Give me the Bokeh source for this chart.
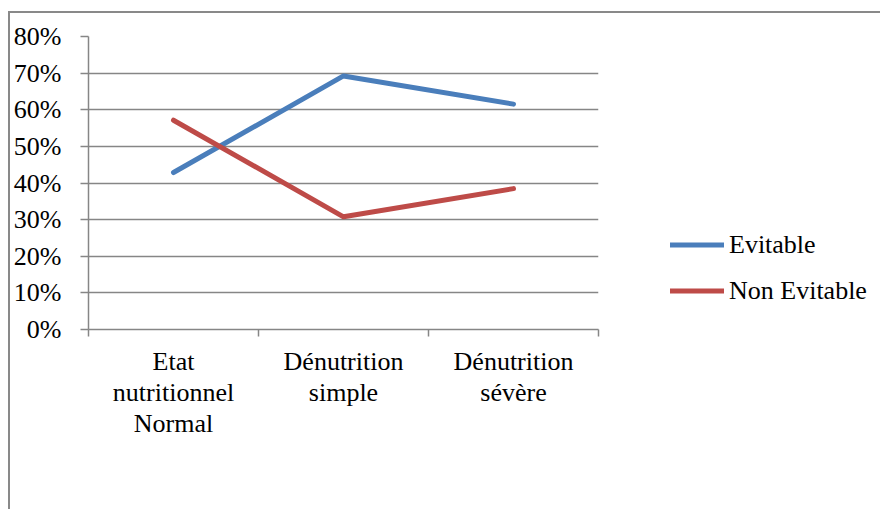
from bokeh.plotting import figure
from bokeh.models import FixedTicker, NumeralTickFormatter, Range1d, Legend, LegendItem
from bokeh.embed import file_html
from bokeh.resources import INLINE

categories = ["Etat\nnutritionnel\nNormal", "Dénutrition\nsimple", "Dénutrition\nsévère"]
evitable = [0.4286, 0.6923, 0.6154]
non_evitable = [0.5714, 0.3077, 0.3846]
y_ticks = [0.0, 0.1, 0.2, 0.3, 0.4, 0.5, 0.6, 0.7, 0.8]

x = list(range(1, len(categories) + 1))
FONT = "Liberation Serif"
FS = "26px"
GRID = "#868686"

p = figure(frame_width=510, frame_height=293, output_backend="svg", toolbar_location=None,
           x_range=Range1d(0.5, len(categories) + 0.5), y_range=Range1d(0, 0.8),
           min_border_left=76, min_border_top=23, min_border_right=0, min_border_bottom=180)
p.outline_line_color = None
p.background_fill_color = "white"
p.border_fill_color = "white"
p.margin = (11, 0, 0, 8)
p.styles = {"border-left": "2px solid #898989", "border-top": "2px solid #898989"}

# y axis
p.yaxis.ticker = FixedTicker(ticks=y_ticks)
p.yaxis.formatter = NumeralTickFormatter(format="0%")
p.yaxis.axis_line_color = GRID
p.yaxis.axis_line_width = 1.5
p.yaxis.major_tick_line_color = GRID
p.yaxis.major_tick_line_width = 1.5
p.yaxis.major_tick_out = 8
p.yaxis.major_tick_in = 0
p.yaxis.minor_tick_line_color = None
p.yaxis.major_label_standoff = 19
p.yaxis.major_label_text_font = FONT
p.yaxis.major_label_text_font_size = FS
p.yaxis.major_label_text_color = "black"

# x axis
p.xaxis.ticker = FixedTicker(ticks=x, minor_ticks=[i + 0.5 for i in range(0, len(categories) + 1)])
p.xaxis.major_label_overrides = {i: c for i, c in zip(x, categories)}
p.xaxis.axis_line_color = GRID
p.xaxis.axis_line_width = 1.5
p.xaxis.major_tick_line_color = None
p.xaxis.minor_tick_line_color = GRID
p.xaxis.minor_tick_line_width = 1.5
p.xaxis.minor_tick_out = 7
p.xaxis.minor_tick_in = 0
p.xaxis.major_tick_out = 7
p.xaxis.major_label_standoff = 10
p.xaxis.major_label_text_font = FONT
p.xaxis.major_label_text_font_size = FS
p.xaxis.major_label_text_line_height = 1.07
p.xaxis.major_label_text_color = "black"
p.xaxis.major_label_text_align = "center"

p.xgrid.grid_line_color = None
p.ygrid.ticker = FixedTicker(ticks=y_ticks)
p.ygrid.grid_line_color = GRID
p.ygrid.grid_line_width = 1.5

r1 = p.line(x, evitable, line_color="#4A7EBB", line_width=5, line_cap="round", line_join="round")
r2 = p.line(x, non_evitable, line_color="#BE4B48", line_width=5, line_cap="round", line_join="round")

legend = Legend(items=[LegendItem(label="Evitable", renderers=[r1]),
                       LegendItem(label="Non Evitable", renderers=[r2])],
                location=(72, 23), glyph_width=54, glyph_height=31, spacing=15,
                label_standoff=5, padding=0, margin=0, border_line_color=None,
                background_fill_alpha=0, label_text_font=FONT, label_text_font_size=FS,
                label_text_color="black")
p.add_layout(legend, "right")

open("out.html", "w").write(file_html(p, INLINE))
